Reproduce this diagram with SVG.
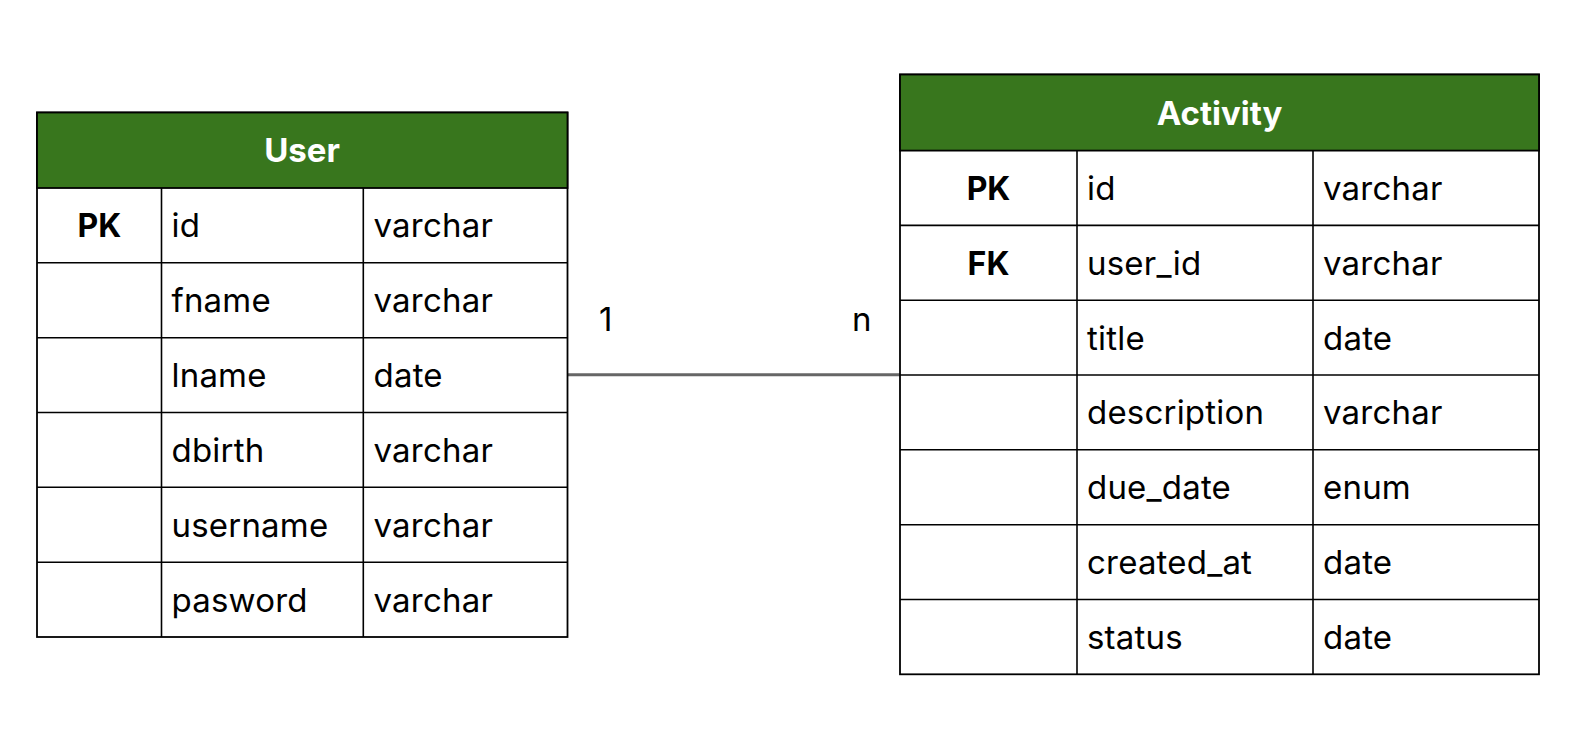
<svg xmlns="http://www.w3.org/2000/svg" width="1575" height="750" viewBox="0 0 1575 750">
<style>
.hdr{fill:#38761d;stroke:#000;stroke-width:1.8}
.cell{fill:#fff;stroke:#000;stroke-width:1.8}
.ln{stroke:#000;stroke-width:1.6}
.t{font-family:Inter,"Liberation Sans",sans-serif;font-size:33px;letter-spacing:0.2px;fill:#000}
.k{font-family:Inter,"Liberation Sans",sans-serif;font-size:32px;font-weight:bold;fill:#000;text-anchor:middle}
.h{font-family:Inter,"Liberation Sans",sans-serif;font-size:33px;font-weight:bold;fill:#fff;text-anchor:middle}
.conn{stroke:#666;stroke-width:3;fill:none}
</style>
<rect width="1575" height="750" fill="#fff"/>
<g id="connectors">
<path class="conn" d="M567.5 374.7 H900"/>
<text class="t" x="599" y="331">1</text>
<text class="t" x="852" y="331">n</text>
</g>
<g id="user">
<rect class="cell" x="37" y="112.5" width="530.5" height="524.5"/>
<rect class="hdr" x="37" y="112.5" width="530.5" height="75.5"/>
<text class="h" x="302" y="161.6">User</text>
<line class="ln" x1="37" y1="262.8" x2="567.5" y2="262.8"/>
<line class="ln" x1="37" y1="337.7" x2="567.5" y2="337.7"/>
<line class="ln" x1="37" y1="412.5" x2="567.5" y2="412.5"/>
<line class="ln" x1="37" y1="487.3" x2="567.5" y2="487.3"/>
<line class="ln" x1="37" y1="562.2" x2="567.5" y2="562.2"/>
<line class="ln" x1="161.5" y1="188" x2="161.5" y2="637"/>
<line class="ln" x1="363.3" y1="188" x2="363.3" y2="637"/>
<text class="k" x="99.3" y="237.3">PK</text>
<text class="t" x="171.5" y="237.3">id</text><text class="t" x="373.5" y="237.3">varchar</text>
<text class="t" x="171.5" y="312.2">fname</text><text class="t" x="373.5" y="312.2">varchar</text>
<text class="t" x="171.5" y="387">lname</text><text class="t" x="373.5" y="387">date</text>
<text class="t" x="171.5" y="461.9">dbirth</text><text class="t" x="373.5" y="461.9">varchar</text>
<text class="t" x="171.5" y="536.7">username</text><text class="t" x="373.5" y="536.7">varchar</text>
<text class="t" x="171.5" y="611.6">pasword</text><text class="t" x="373.5" y="611.6">varchar</text>
</g>
<g id="activity">
<rect class="cell" x="900" y="74.5" width="639" height="599.8"/>
<rect class="hdr" x="900" y="74.5" width="639" height="76.1"/>
<text class="h" x="1219.5" y="124.5">Activity</text>
<line class="ln" x1="900" y1="225.4" x2="1539" y2="225.4"/>
<line class="ln" x1="900" y1="300.2" x2="1539" y2="300.2"/>
<line class="ln" x1="900" y1="375" x2="1539" y2="375"/>
<line class="ln" x1="900" y1="449.8" x2="1539" y2="449.8"/>
<line class="ln" x1="900" y1="524.7" x2="1539" y2="524.7"/>
<line class="ln" x1="900" y1="599.5" x2="1539" y2="599.5"/>
<line class="ln" x1="1077" y1="150.6" x2="1077" y2="674.3"/>
<line class="ln" x1="1313" y1="150.6" x2="1313" y2="674.3"/>
<text class="k" x="988.5" y="200">PK</text>
<text class="k" x="988.5" y="274.8">FK</text>
<text class="t" x="1087" y="200">id</text><text class="t" x="1323" y="200">varchar</text>
<text class="t" x="1087" y="274.8">user_id</text><text class="t" x="1323" y="274.8">varchar</text>
<text class="t" x="1087" y="349.6">title</text><text class="t" x="1323" y="349.6">date</text>
<text class="t" x="1087" y="424.4">description</text><text class="t" x="1323" y="424.4">varchar</text>
<text class="t" x="1087" y="499.2">due_date</text><text class="t" x="1323" y="499.2">enum</text>
<text class="t" x="1087" y="574.1">created_at</text><text class="t" x="1323" y="574.1">date</text>
<text class="t" x="1087" y="648.9">status</text><text class="t" x="1323" y="648.9">date</text>
</g>
</svg>
